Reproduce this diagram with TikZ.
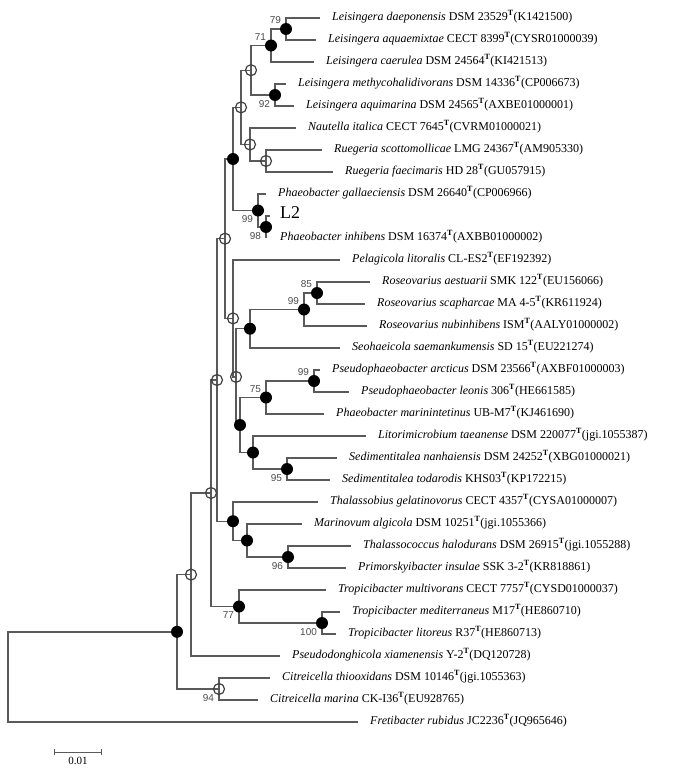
\documentclass[tikz,border=0pt]{standalone}
\usepackage{fontspec}
\setmainfont{Liberation Serif}
\newfontfamily\supportfont{Liberation Sans}
\usepackage{tikz}
\usetikzlibrary{backgrounds,arrows.meta}
\definecolor{branchgray}{RGB}{90,90,90}
\definecolor{supportgray}{RGB}{75,75,75}
\newcommand{\typeT}{\textsuperscript{\textbf{T}}}

\begin{document}
\begin{tikzpicture}[
    x=1pt, y=-1pt,
    branch/.style={draw=branchgray, line width=1.4pt},
    taxon/.style={anchor=mid west, inner xsep=12pt, inner ysep=0pt, font=\fontsize{12}{14}\selectfont},
    dotfull/.style={circle, fill=black, minimum size=12pt, inner sep=0pt},
    dotopen/.style={circle, draw=black!75, line width=1.2pt, minimum size=11pt, inner sep=0pt},
    boot/.style={font=\supportfont\fontsize{10}{10}\selectfont, text=supportgray, inner sep=0.5pt}
]
\useasboundingbox (0,0) rectangle (700,771);

\node[taxon] (t1) at (320,18) {\textit{Leisingera daeponensis} DSM 23529\typeT(K1421500)};
\node[taxon] (t2) at (316,40) {\textit{Leisingera aquaemixtae} CECT 8399\typeT(CYSR01000039)};
\node[taxon] (t3) at (314,62) {\textit{Leisingera caerulea} DSM 24564\typeT(KI421513)};
\node[taxon] (t4) at (286,84) {\textit{Leisingera methycohalidivorans} DSM 14336\typeT(CP006673)};
\node[taxon] (t5) at (294,106) {\textit{Leisingera aquimarina} DSM 24565\typeT(AXBE01000001)};
\node[taxon] (t6) at (296,128) {\textit{Nautella italica} CECT 7645\typeT(CVRM01000021)};
\node[taxon] (t7) at (322,150) {\textit{Ruegeria scottomollicae} LMG 24367\typeT(AM905330)};
\node[taxon] (t8) at (333,172) {\textit{Ruegeria faecimaris} HD 28\typeT(GU057915)};
\node[taxon] (t9) at (266,194) {\textit{Phaeobacter gallaeciensis} DSM 26640\typeT(CP006966)};
\node[taxon, font=\fontsize{18}{20}\selectfont, inner xsep=10pt] (t10) at (270,216) {L2};
\node[taxon, inner xsep=14pt] (t11) at (266,238) {\textit{Phaeobacter inhibens} DSM 16374\typeT(AXBB01000002)};
\node[taxon] (t12) at (340,260) {\textit{Pelagicola litoralis} CL-ES2\typeT(EF192392)};
\node[taxon] (t13) at (370,282) {\textit{Roseovarius aestuarii} SMK 122\typeT(EU156066)};
\node[taxon] (t14) at (365,304) {\textit{Roseovarius scapharcae} MA 4-5\typeT(KR611924)};
\node[taxon] (t15) at (367,326) {\textit{Roseovarius nubinhibens} ISM\typeT(AALY01000002)};
\node[taxon] (t16) at (340,348) {\textit{Seohaeicola saemankumensis} SD 15\typeT(EU221274)};
\node[taxon] (t17) at (320,370) {\textit{Pseudophaeobacter arcticus} DSM 23566\typeT(AXBF01000003)};
\node[taxon] (t18) at (349,392) {\textit{Pseudophaeobacter leonis} 306\typeT(HE661585)};
\node[taxon] (t19) at (324,414) {\textit{Phaeobacter marinintetinus} UB-M7\typeT(KJ461690)};
\node[taxon] (t20) at (366,436) {\textit{Litorimicrobium taeanense} DSM 220077\typeT(jgi.1055387)};
\node[taxon] (t21) at (337,458) {\textit{Sedimentitalea nanhaiensis} DSM 24252\typeT(XBG01000021)};
\node[taxon] (t22) at (330,480) {\textit{Sedimentitalea todarodis} KHS03\typeT(KP172215)};
\node[taxon] (t23) at (318,502) {\textit{Thalassobius gelatinovorus} CECT 4357\typeT(CYSA01000007)};
\node[taxon] (t24) at (302,524) {\textit{Marinovum algicola} DSM 10251\typeT(jgi.1055366)};
\node[taxon] (t25) at (351,546) {\textit{Thalassococcus halodurans} DSM 26915\typeT(jgi.1055288)};
\node[taxon] (t26) at (346,568) {\textit{Primorskyibacter insulae} SSK 3-2\typeT(KR818861)};
\node[taxon] (t27) at (326,590) {\textit{Tropicibacter multivorans} CECT 7757\typeT(CYSD01000037)};
\node[taxon] (t28) at (340,612) {\textit{Tropicibacter mediterraneus} M17\typeT(HE860710)};
\node[taxon] (t29) at (336,634) {\textit{Tropicibacter litoreus} R37\typeT(HE860713)};
\node[taxon] (t30) at (280,656) {\textit{Pseudodonghicola xiamenensis} Y-2\typeT(DQ120728)};
\node[taxon] (t31) at (270,678) {\textit{Citreicella thiooxidans} DSM 10146\typeT(jgi.1055363)};
\node[taxon] (t32) at (258,700) {\textit{Citreicella marina} CK-I36\typeT(EU928765)};
\node[taxon] (t33) at (358,722) {\textit{Fretibacter rubidus} JC2236\typeT(JQ965646)};

\coordinate (root) at (8,676.9);
\node[dotfull] (core) at (177,631.8) {};
\node[dotopen] (mid) at (191,574.6) {};
\node[dotopen, label={[boot]below left:94}] (citre) at (219,689) {};
\node[dotopen] (upper) at (211,493) {};
\node[dotopen] (big) at (217,380) {};
\node[dotfull, label={[boot]below left:77}] (tropi) at (239,606.5) {};
\node[dotfull, label={[boot]below left:100}] (tropi2) at (322,623) {};
\node[dotfull] (thala) at (233,521.2) {};
\node[dotfull] (marin) at (247,540.5) {};
\node[dotfull, label={[boot]below left:96}] (thalpri) at (288,557) {};
\node[dotopen] (phaeo) at (225,238.7) {};
\node[dotopen] (pelag) at (233,318.4) {};
\node[dotopen] (roseo) at (236,376.9) {};
\node[dotfull] (roseoS) at (250,328.7) {};
\node[dotfull, label={[boot]above left:99}] (roseo99) at (304,309.5) {};
\node[dotfull, label={[boot]above left:85}] (roseo85) at (317,293) {};
\node[dotfull] (pseudo) at (240,425) {};
\node[dotfull, label={[boot]above left:75}] (pseudo75) at (266,397.5) {};
\node[dotfull, label={[boot]above left:99}] (pseudo99) at (314,381) {};
\node[dotfull] (sedi) at (253,452.5) {};
\node[dotfull, label={[boot]below left:95}] (sedi95) at (287,469) {};
\node[dotfull] (leisphae) at (233,159) {};
\node[dotfull, label={[boot]below left:99}] (phaeo99) at (258,210.5) {};
\node[dotfull, label={[boot]below left:98}] (phaeo98) at (266,227) {};
\node[dotopen] (leisrue) at (241,107.4) {};
\node[dotopen] (leis) at (251,70.2) {};
\node[dotfull, label={[boot]above left:71}] (leis71) at (271,45.5) {};
\node[dotfull, label={[boot]above left:79}] (leis79) at (286,29) {};
\node[dotfull, label={[boot]below left:92}] (leis92) at (275,95) {};
\node[dotopen] (rueg) at (250,144.5) {};
\node[dotopen] (rueg2) at (266,161) {};

\begin{scope}[on background layer]
\foreach \p/\c in {root/core, core/mid, core/citre, mid/upper, upper/big, upper/tropi,
    tropi/tropi2, big/phaeo, big/thala, thala/marin, marin/thalpri, phaeo/leisphae,
    phaeo/pelag, pelag/roseo, roseo/roseoS, roseo/pseudo, roseoS/roseo99, roseo99/roseo85,
    pseudo/pseudo75, pseudo/sedi, pseudo75/pseudo99, sedi/sedi95, leisphae/leisrue,
    leisphae/phaeo99, phaeo99/phaeo98, leisrue/leis, leisrue/rueg, leis/leis71,
    leis/leis92, leis71/leis79, rueg/rueg2}
    \draw[branch] (\p.center) |- (\c.center);
\foreach \p/\c in {leis79/t1, leis79/t2, leis71/t3, leis92/t4, leis92/t5, rueg/t6,
    rueg2/t7, rueg2/t8, phaeo99/t9, phaeo98/t10, phaeo98/t11, pelag/t12, roseo85/t13,
    roseo85/t14, roseo99/t15, roseoS/t16, pseudo99/t17, pseudo99/t18, pseudo75/t19,
    sedi/t20, sedi95/t21, sedi95/t22, thala/t23, marin/t24, thalpri/t25, thalpri/t26,
    tropi/t27, tropi2/t28, tropi2/t29, mid/t30, citre/t31, citre/t32, root/t33}
    \draw[branch] (\p.center) |- (\c.mid west);
\end{scope}

\coordinate (sbl) at (54,752);
\coordinate (sbr) at (102,752);
\draw[branch, line width=1pt, {Bar[width=6pt]}-{Bar[width=6pt]}] (sbl) -- (sbr)
    node[midway, below=1pt, font=\fontsize{11}{12}\selectfont] (sblabel) {0.01};

\end{tikzpicture}
\end{document}
